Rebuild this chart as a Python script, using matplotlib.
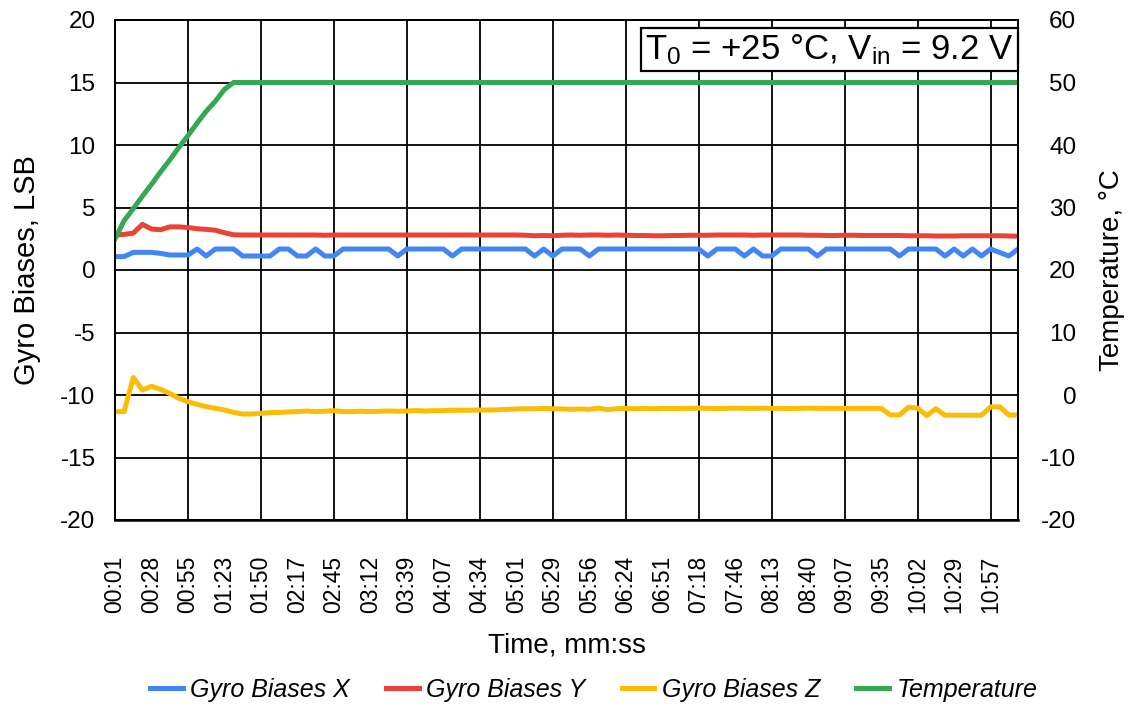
import matplotlib
matplotlib.use("Agg")
import matplotlib.pyplot as plt

plt.rcParams['font.family'] = ['Liberation Sans', 'DejaVu Sans']
plt.rcParams['mathtext.fontset'] = 'custom'
plt.rcParams['mathtext.rm'] = 'Liberation Sans'
plt.rcParams['mathtext.it'] = 'Liberation Sans:italic'
plt.rcParams['axes.unicode_minus'] = False

# ---------------- data ----------------
tick_labels = ["00:01", "00:28", "00:55", "01:23", "01:50", "02:17", "02:45",
               "03:12", "03:39", "04:07", "04:34", "05:01", "05:29", "05:56",
               "06:24", "06:51", "07:18", "07:46", "08:13", "08:40", "09:07",
               "09:35", "10:02", "10:29", "10:57"]

bias_x = [1.07, 1.07, 1.41, 1.41, 1.41, 1.33, 1.20, 1.20, 1.20, 1.68,
          1.12, 1.68, 1.68, 1.68, 1.12, 1.12, 1.12, 1.12, 1.68, 1.68,
          1.12, 1.12, 1.68, 1.12, 1.12, 1.68, 1.68, 1.68, 1.68, 1.68,
          1.68, 1.12, 1.68, 1.68, 1.68, 1.68, 1.68, 1.12, 1.68, 1.68,
          1.68, 1.68, 1.68, 1.68, 1.68, 1.68, 1.12, 1.68, 1.12, 1.68,
          1.68, 1.68, 1.12, 1.68, 1.68, 1.68, 1.68, 1.68, 1.68, 1.68,
          1.68, 1.68, 1.68, 1.68, 1.68, 1.12, 1.68, 1.68, 1.68, 1.12,
          1.68, 1.12, 1.12, 1.68, 1.68, 1.68, 1.68, 1.12, 1.68, 1.68,
          1.68, 1.68, 1.68, 1.68, 1.68, 1.68, 1.12, 1.68, 1.68, 1.68,
          1.68, 1.12, 1.68, 1.12, 1.68, 1.12, 1.68, 1.40, 1.12, 1.68]

bias_y = [2.80, 2.85, 2.95, 3.65, 3.28, 3.22, 3.45, 3.45, 3.40, 3.30,
          3.25, 3.18, 2.98, 2.82, 2.80, 2.80, 2.80, 2.80, 2.80, 2.80,
          2.80, 2.80, 2.80, 2.78, 2.80, 2.80, 2.80, 2.80, 2.80, 2.80,
          2.80, 2.80, 2.80, 2.80, 2.80, 2.80, 2.80, 2.80, 2.80, 2.80,
          2.80, 2.80, 2.80, 2.80, 2.80, 2.78, 2.74, 2.76, 2.74, 2.78,
          2.80, 2.78, 2.80, 2.80, 2.78, 2.80, 2.78, 2.76, 2.76, 2.74,
          2.74, 2.76, 2.76, 2.78, 2.78, 2.78, 2.80, 2.80, 2.80, 2.80,
          2.78, 2.80, 2.80, 2.80, 2.80, 2.80, 2.78, 2.78, 2.76, 2.76,
          2.78, 2.78, 2.76, 2.76, 2.76, 2.76, 2.76, 2.74, 2.74, 2.74,
          2.72, 2.72, 2.72, 2.74, 2.74, 2.74, 2.74, 2.74, 2.72, 2.70]

bias_z = [-11.33, -11.33, -8.60, -9.60, -9.30, -9.55, -9.87, -10.27, -10.53, -10.75,
          -10.93, -11.07, -11.20, -11.39, -11.52, -11.52, -11.47, -11.41, -11.39, -11.36,
          -11.33, -11.28, -11.33, -11.30, -11.25, -11.33, -11.33, -11.30, -11.33, -11.30,
          -11.28, -11.30, -11.28, -11.25, -11.28, -11.25, -11.25, -11.22, -11.22, -11.22,
          -11.20, -11.20, -11.18, -11.15, -11.12, -11.10, -11.10, -11.07, -11.10, -11.12,
          -11.15, -11.12, -11.15, -11.05, -11.18, -11.10, -11.07, -11.10, -11.07, -11.10,
          -11.07, -11.08, -11.07, -11.07, -11.05, -11.07, -11.08, -11.07, -11.05, -11.07,
          -11.07, -11.05, -11.07, -11.07, -11.08, -11.07, -11.05, -11.07, -11.07, -11.07,
          -11.07, -11.07, -11.07, -11.07, -11.07, -11.60, -11.60, -10.98, -11.05, -11.65,
          -11.10, -11.62, -11.62, -11.62, -11.62, -11.62, -10.95, -10.95, -11.60, -11.60]

temperature = [25.0, 27.9, 29.8, 31.8, 33.7, 35.7, 37.6, 39.6, 41.5, 43.5,
               45.4, 47.0, 48.9, 50.0, 50.0, 50.0, 50.0, 50.0, 50.0, 50.0,
               50.0, 50.0, 50.0, 50.0, 50.0, 50.0, 50.0, 50.0, 50.0, 50.0,
               50.0, 50.0, 50.0, 50.0, 50.0, 50.0, 50.0, 50.0, 50.0, 50.0,
               50.0, 50.0, 50.0, 50.0, 50.0, 50.0, 50.0, 50.0, 50.0, 50.0,
               50.0, 50.0, 50.0, 50.0, 50.0, 50.0, 50.0, 50.0, 50.0, 50.0,
               50.0, 50.0, 50.0, 50.0, 50.0, 50.0, 50.0, 50.0, 50.0, 50.0,
               50.0, 50.0, 50.0, 50.0, 50.0, 50.0, 50.0, 50.0, 50.0, 50.0,
               50.0, 50.0, 50.0, 50.0, 50.0, 50.0, 50.0, 50.0, 50.0, 50.0,
               50.0, 50.0, 50.0, 50.0, 50.0, 50.0, 50.0, 50.0, 50.0, 50.0]

series_names = ["Gyro Biases X", "Gyro Biases Y", "Gyro Biases Z", "Temperature"]
colors = ["#4285F4", "#EA4335", "#FBBC04", "#34A853"]

# ---------------- plot ----------------
fig = plt.figure(figsize=(11.29, 7.07), dpi=100)
ax = fig.add_axes([115 / 1129, 1 - 520 / 707, (1018 - 115) / 1129, 500 / 707])
ax2 = ax.twinx()

idx = list(range(len(bias_x)))
lw = 3.6
l1, = ax.plot(idx, bias_x, color=colors[0], lw=lw, solid_joinstyle='round')
l2, = ax.plot(idx, bias_y, color=colors[1], lw=lw, solid_joinstyle='round')
l3, = ax.plot(idx, bias_z, color=colors[2], lw=lw, solid_joinstyle='round')
l4, = ax2.plot(idx, temperature, color=colors[3], lw=lw, solid_joinstyle='round')

ax.set_xlim(0, len(idx) - 1)
ax.set_ylim(-20, 20)
ax2.set_ylim(-20, 60)
ax.set_yticks(range(-20, 21, 5))
ax2.set_yticks(range(-20, 61, 10))

tick_pos = list(range(0, 4 * len(tick_labels), 4))
ax.xaxis.remove_overlapping_locs = False
ax.set_xticks(tick_pos)
ax.set_xticklabels(tick_labels, rotation=90, fontsize=16.5)
ax.set_xticks(tick_pos[::2], minor=True)

ax.grid(True, which='minor', axis='x', color='black', lw=1.3)
ax.grid(True, which='major', axis='y', color='black', lw=1.3)
ax.set_axisbelow(True)

ax.tick_params(axis='x', which='both', length=0)
ax.tick_params(axis='x', which='major', pad=26)
ax.tick_params(axis='y', length=0, labelsize=17.5, pad=14)
ax2.tick_params(axis='y', length=0, labelsize=17.5, pad=42)
for t in ax2.get_yticklabels():
    t.set_horizontalalignment('right')

for sp in ax.spines.values():
    sp.set_color('black')
    sp.set_linewidth(1.3)
for sp in ax2.spines.values():
    sp.set_color('black')
    sp.set_linewidth(1.3)
ax2.spines['bottom'].set_linewidth(1.8)

ax.set_xlabel("Time, mm:ss", fontsize=20, labelpad=14)
ax.set_ylabel("Gyro Biases, LSB", fontsize=21, labelpad=14)
ax2.set_ylabel("Temperature, °C", fontsize=20, labelpad=16)

ax2.text(0.995, 0.975, r"T$_{0}$ = +25 °C, V$_{\mathrm{in}}$ = 9.2 V",
         transform=ax2.transAxes, ha='right', va='top', fontsize=25,
         bbox=dict(boxstyle='square,pad=0.12', fc='white', ec='black', lw=1.6))

fig.legend([l1, l2, l3, l4], series_names, loc='center', ncol=4,
           bbox_to_anchor=(0.526, 0.024), frameon=False,
           prop={'style': 'italic', 'size': 18}, handlelength=1.3,
           handletextpad=0.3, columnspacing=1.45)

fig.savefig("out.png", dpi=100, facecolor='white')
